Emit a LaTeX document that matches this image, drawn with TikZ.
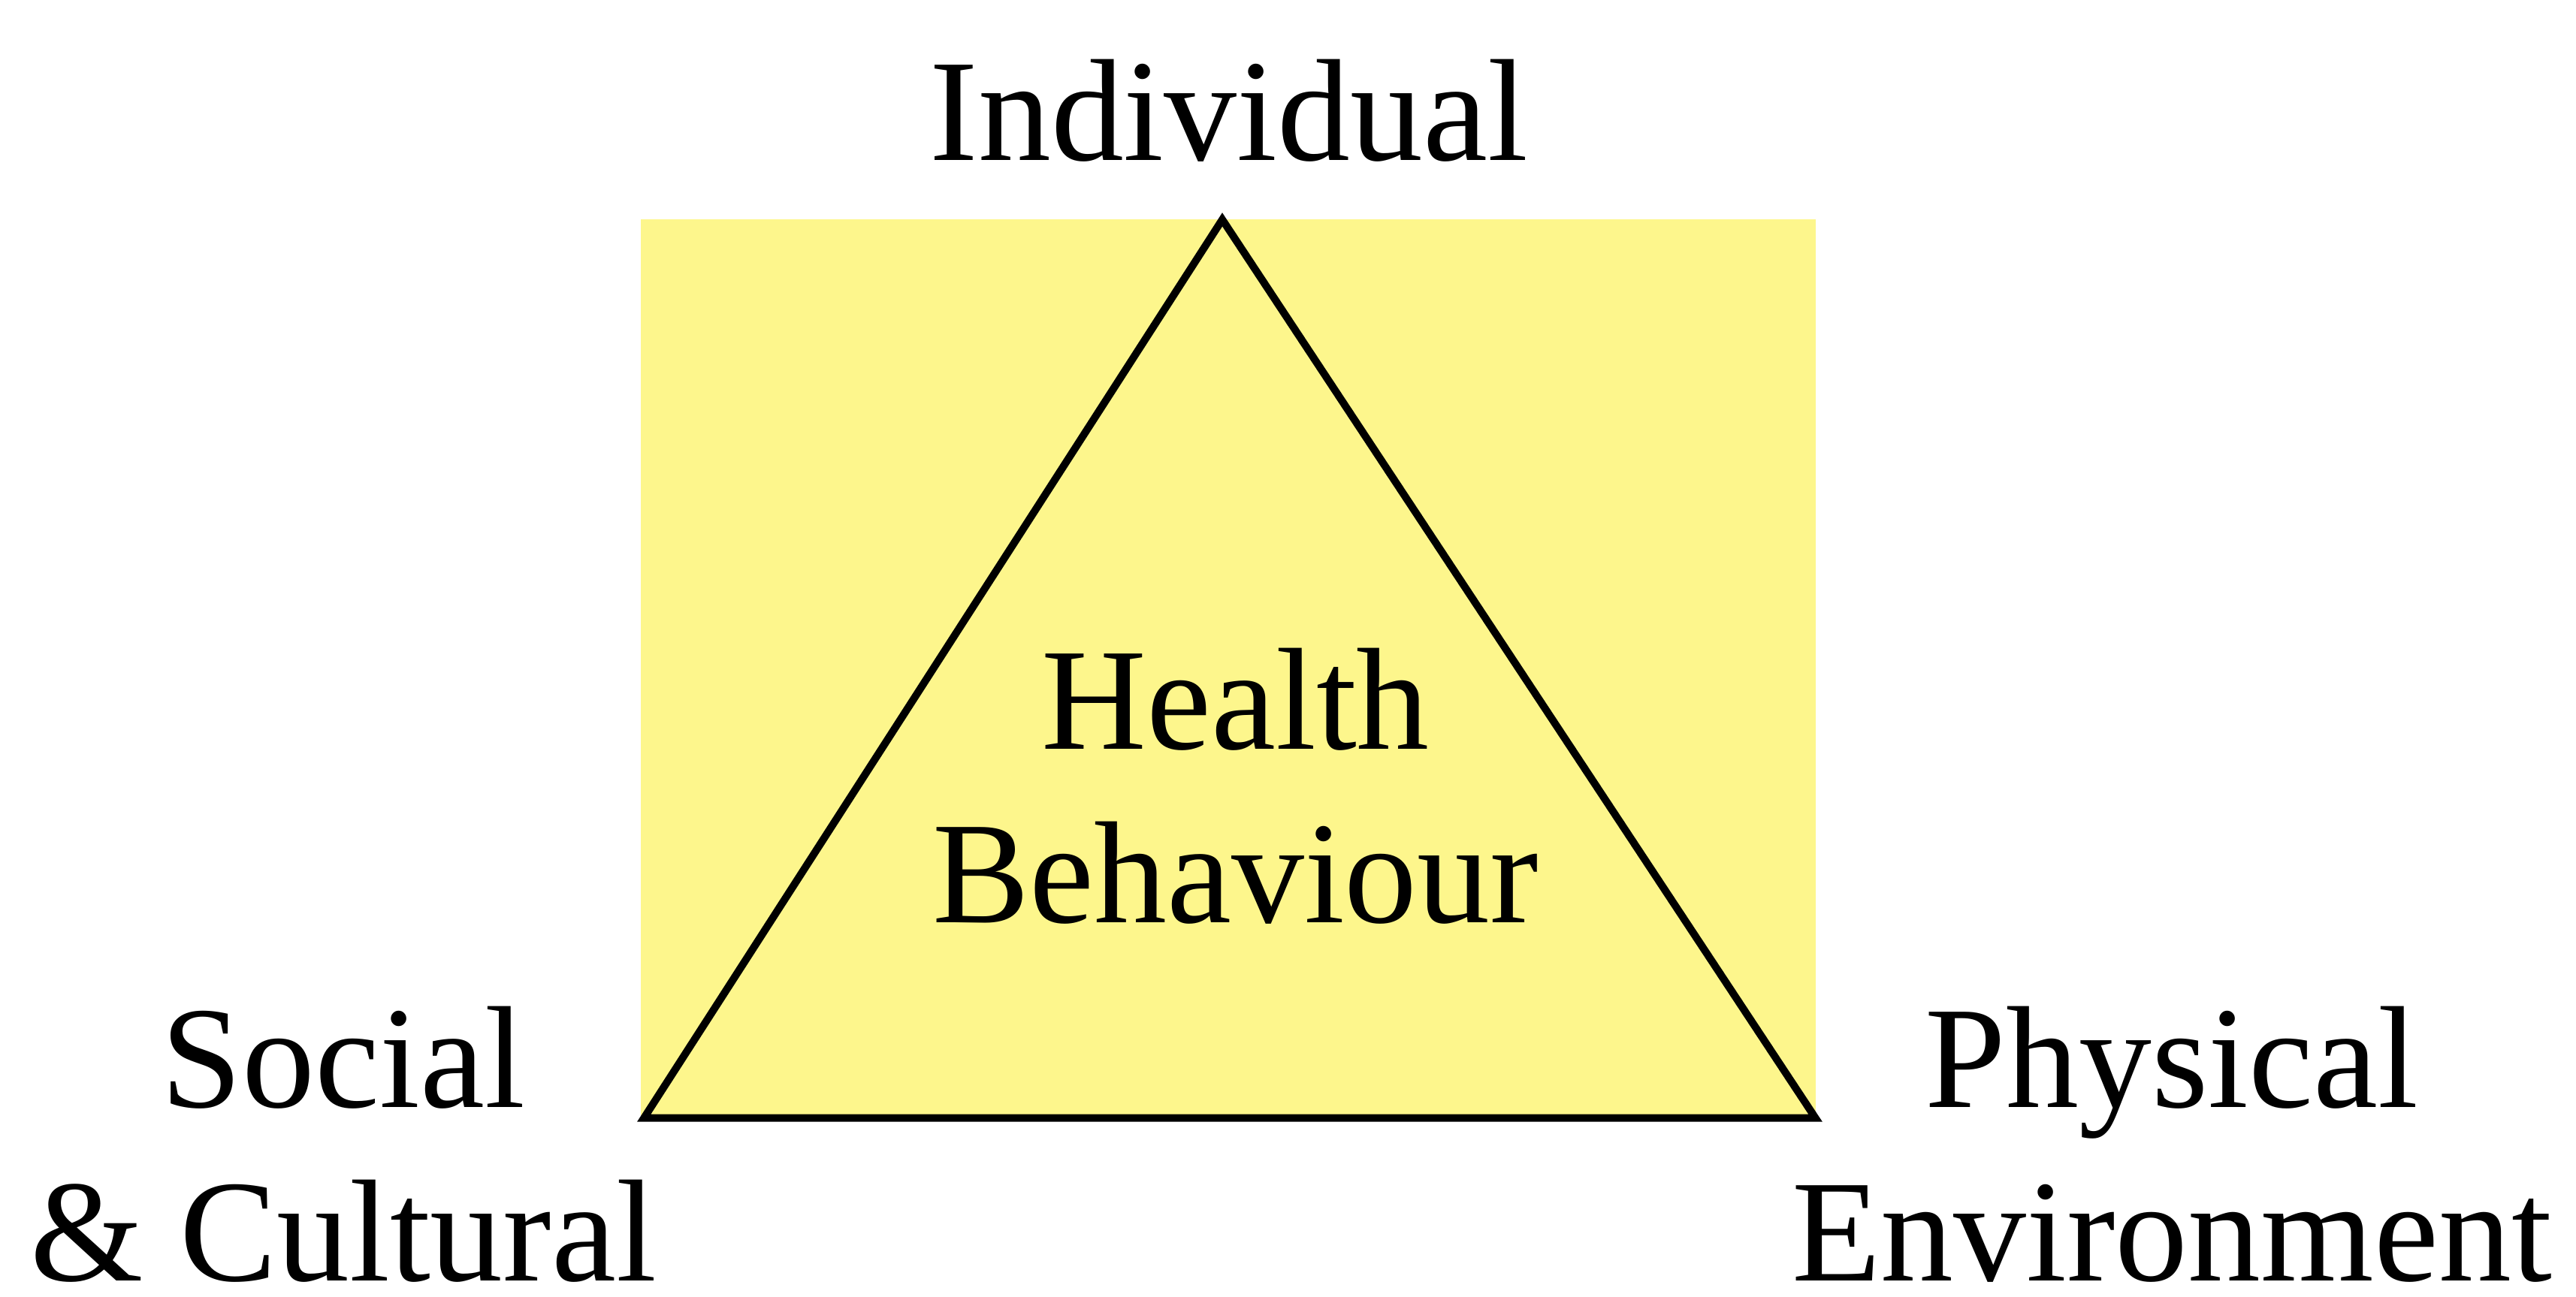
\documentclass[tikz,border=0pt]{standalone}
\usepackage{fontspec}
\setmainfont{Liberation Serif}
\usepackage{xcolor}
\usepackage{tikz}
\usetikzlibrary{positioning,calc}

\definecolor{paleyellow}{RGB}{253,246,140}

\begin{document}
\begin{tikzpicture}[
  vertex/.style={font=\fontsize{25.2}{30}\selectfont, align=center, anchor=base, inner sep=0pt, text depth=0pt},
  edge/.style={line width=1.3pt, line join=miter}
]
\useasboundingbox (0,0) rectangle (15.68,7.897);

% Background panel
\fill[paleyellow] (3.90,1.09) rectangle (11.05,6.56);

% Triangle corners
\coordinate (top) at (7.44,6.56);
\coordinate (left) at (3.92,1.09);
\coordinate (right) at (11.05,1.09);

% Triangle
\draw[edge] (top) -- (left) -- (right) -- cycle;

% Labels (base = last line)
\node[vertex] (individual) at (7.48,6.92) {Individual};
\node[vertex] (health) at (7.52,2.28) {Health\\Behaviour};
\node[vertex] (social) at (2.09,0.10) {Social\\\& Cultural};
\node[vertex] (physical) at (13.22,0.10) {Physical\\Environment};

\end{tikzpicture}
\end{document}
